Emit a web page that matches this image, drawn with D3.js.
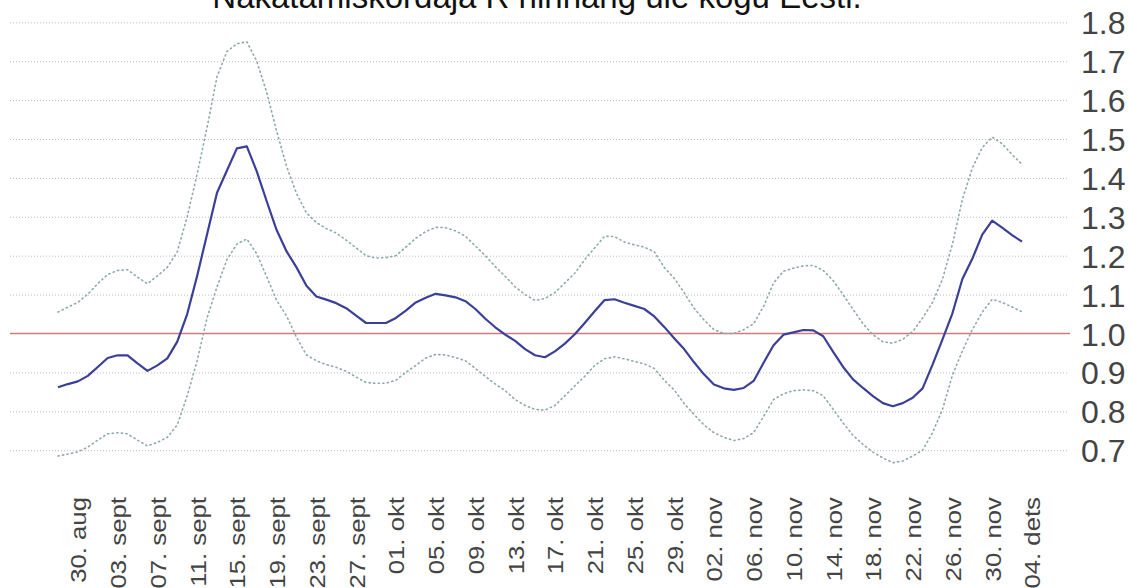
<!DOCTYPE html>
<html><head><meta charset="utf-8">
<script src="https://cdn.jsdelivr.net/npm/d3@7"></script>
<style>body{margin:0;background:#fff;overflow:hidden} svg{display:block}</style>
</head><body>
<svg id="c" width="1131" height="588"></svg>
<script>
const title = "Nakatamiskordaja R hinnang üle kogu Eesti.";
const startDate = new Date(2021, 7, 28);
const rMean = [0.862,0.870,0.877,0.891,0.914,0.937,0.944,0.944,0.923,0.904,
0.918,0.936,0.979,1.05,1.148,1.255,1.362,1.419,1.476,1.481,
1.417,1.34,1.266,1.211,1.170,1.123,1.095,1.087,1.078,1.065,
1.046,1.027,1.027,1.027,1.040,1.059,1.080,1.092,1.102,1.098,
1.093,1.083,1.063,1.038,1.016,0.997,0.981,0.960,0.944,0.939,
0.954,0.974,0.998,1.027,1.057,1.086,1.088,1.079,1.071,1.063,
1.044,1.017,0.988,0.960,0.926,0.895,0.869,0.859,0.855,0.860,
0.878,0.925,0.970,0.997,1.003,1.009,1.008,0.993,0.953,0.914,
0.882,0.860,0.839,0.821,0.813,0.821,0.835,0.859,0.920,0.985,
1.052,1.140,1.192,1.254,1.290,1.272,1.253,1.236];
const rUpper = [1.055,1.068,1.080,1.101,1.128,1.152,1.162,1.164,1.145,1.128,
1.148,1.170,1.21,1.30,1.41,1.53,1.66,1.725,1.745,1.75,
1.70,1.62,1.52,1.43,1.36,1.31,1.285,1.27,1.258,1.24,
1.22,1.20,1.194,1.195,1.20,1.222,1.245,1.262,1.273,1.272,
1.264,1.25,1.225,1.20,1.172,1.147,1.120,1.10,1.085,1.09,
1.105,1.13,1.155,1.19,1.22,1.25,1.249,1.235,1.228,1.222,
1.21,1.17,1.142,1.105,1.065,1.035,1.01,1.0,1.0,1.01,
1.025,1.07,1.13,1.16,1.168,1.174,1.175,1.162,1.136,1.10,
1.062,1.025,0.997,0.979,0.975,0.985,1.005,1.04,1.08,1.14,
1.23,1.345,1.425,1.478,1.505,1.488,1.46,1.435];
const rLower = [0.685,0.69,0.696,0.708,0.726,0.742,0.745,0.742,0.726,0.711,
0.72,0.733,0.765,0.84,0.93,1.04,1.12,1.19,1.23,1.243,
1.205,1.146,1.085,1.045,0.99,0.945,0.93,0.92,0.913,0.903,
0.888,0.874,0.872,0.872,0.880,0.9,0.918,0.937,0.946,0.945,
0.938,0.93,0.91,0.89,0.87,0.853,0.83,0.815,0.805,0.803,
0.815,0.84,0.865,0.89,0.918,0.935,0.94,0.935,0.928,0.922,
0.91,0.88,0.855,0.82,0.792,0.765,0.745,0.733,0.725,0.73,
0.745,0.787,0.83,0.845,0.853,0.855,0.853,0.84,0.805,0.77,
0.738,0.715,0.695,0.68,0.668,0.672,0.685,0.7,0.745,0.805,
0.893,0.955,1.01,1.055,1.088,1.08,1.068,1.056];
const tickDates = ["2021-08-30","2021-09-03","2021-09-07","2021-09-11","2021-09-15","2021-09-19","2021-09-23","2021-09-27",
"2021-10-01","2021-10-05","2021-10-09","2021-10-13","2021-10-17","2021-10-21","2021-10-25","2021-10-29",
"2021-11-02","2021-11-06","2021-11-10","2021-11-14","2021-11-18","2021-11-22","2021-11-26","2021-11-30","2021-12-04"];
const tickLabels = ["30. aug","03. sept","07. sept","11. sept","15. sept","19. sept","23. sept","27. sept",
"01. okt","05. okt","09. okt","13. okt","17. okt","21. okt","25. okt","29. okt",
"02. nov","06. nov","10. nov","14. nov","18. nov","22. nov","26. nov","30. nov","04. dets"];
const yTicks = [0.7,0.8,0.9,1.0,1.1,1.2,1.3,1.4,1.5,1.6,1.7,1.8];
const refLine = 1.0;

const parse = d3.timeParse("%Y-%m-%d");
const dates = rMean.map((_, i) => d3.timeDay.offset(startDate, i));
const data = dates.map((d, i) => ({date: d, m: rMean[i], u: rUpper[i], l: rLower[i]}));

const svg = d3.select("#c");
const x = d3.scaleTime().domain([dates[0], dates[dates.length-1]]).range([58, 1022]);
const y = d3.scaleLinear().domain([0.7, 1.8]).range([450.2, 22.3]);
const gridLeft = 8, gridRight = 1067;

// y grid + labels
const yAxis = d3.axisRight(y).tickValues(yTicks).tickFormat(d3.format(".1f"))
  .tickSize(-(gridRight - gridLeft)).tickPadding(14);
const gy = svg.append("g").attr("transform", `translate(${gridRight},0)`).call(yAxis);
gy.select(".domain").remove();
gy.selectAll(".tick line").attr("stroke", "#bdbdbd").attr("stroke-width", 1)
  .attr("stroke-dasharray", "1,2").attr("opacity", d => d === refLine ? 0 : 1);
gy.selectAll(".tick text").attr("font-family", "Liberation Sans, Arial, sans-serif")
  .attr("font-size", 32).attr("fill", "#444").attr("dy", "0.36em");

// reference line
svg.append("line").attr("x1", 10).attr("x2", 1070).attr("y1", y(refLine)).attr("y2", y(refLine))
  .attr("stroke", "#cf7b7b").attr("stroke-width", 1.5);

// x labels
const xAxis = d3.axisBottom(x).tickValues(tickDates.map(parse))
  .tickFormat((d, i) => tickLabels[i]).tickSize(0);
const gx = svg.append("g").attr("transform", `translate(0,${497})`).call(xAxis);
gx.select(".domain").remove();
gx.selectAll(".tick text").attr("font-family", "Liberation Sans, Arial, sans-serif")
  .attr("font-size", 22).attr("fill", "#444")
  .attr("text-anchor", "end").attr("transform", "rotate(-90) scale(1.17,1)")
  .attr("x", 0).attr("y", 0).attr("dy", "0.36em");

// CI lines
const lineU = d3.line().x(d => x(d.date)).y(d => y(d.u));
const lineL = d3.line().x(d => x(d.date)).y(d => y(d.l));
const lineM = d3.line().x(d => x(d.date)).y(d => y(d.m));
[lineU, lineL].forEach(l => svg.append("path").datum(data).attr("d", l)
  .attr("fill", "none").attr("stroke", "#8fa8ab").attr("stroke-width", 1.6)
  .attr("stroke-dasharray", "1.2,3.4").attr("stroke-linecap", "round"));
svg.append("path").datum(data).attr("d", lineM).attr("fill", "none")
  .attr("stroke", "#3b3f98").attr("stroke-width", 2.2).attr("stroke-linejoin", "round");

// title
svg.append("text").attr("x", 537).attr("y", 8).attr("text-anchor", "middle")
  .attr("font-family", "Liberation Sans, Arial, sans-serif").attr("font-size", 33)
  .attr("fill", "#111").text(title);
</script>
</body></html>
